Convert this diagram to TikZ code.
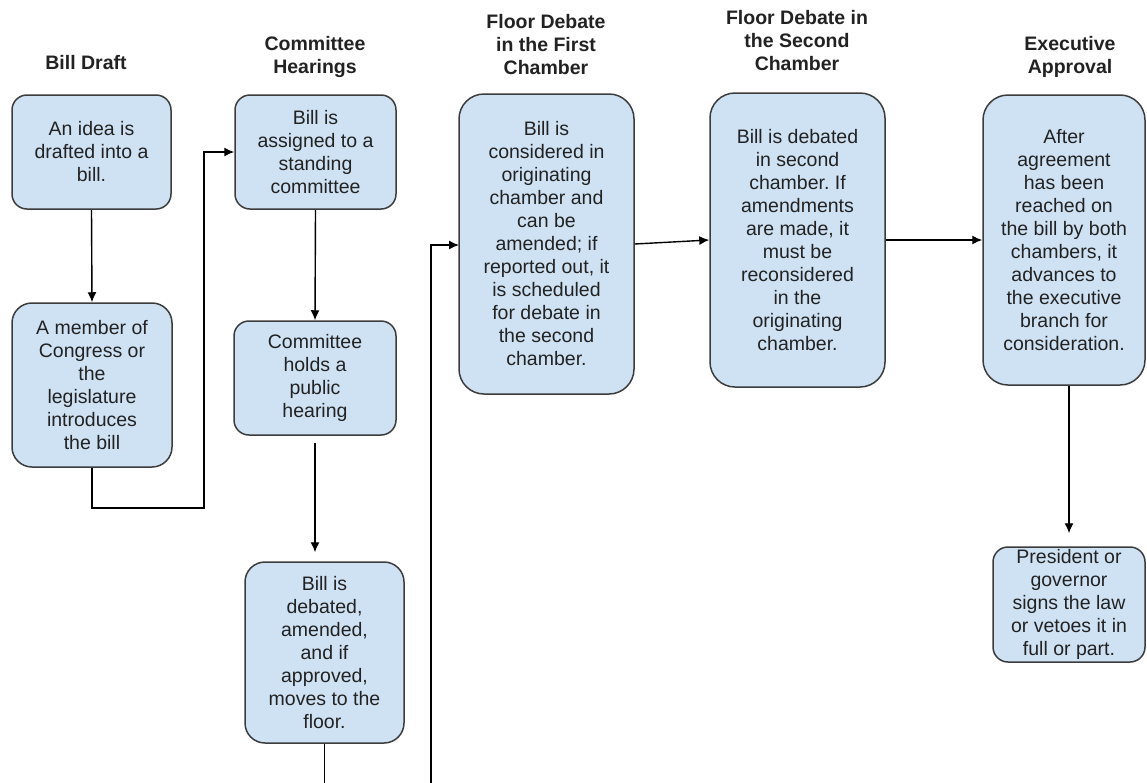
\documentclass[tikz,border=0pt]{standalone}
\usepackage{fontspec}
\setmainfont{Liberation Sans}
\frenchspacing
\usetikzlibrary{arrows.meta,calc}
\definecolor{boxfill}{HTML}{CFE2F3}
\definecolor{boxline}{HTML}{3C3C3C}
\definecolor{txt}{HTML}{222222}
\tikzset{
  box/.style={draw=boxline, line width=1.5pt, fill=boxfill, align=center, inner sep=0pt,
    text=txt, font=\fontsize{19.5}{23}\selectfont},
  ttl/.style={align=center, inner sep=0pt, text=txt, font=\fontsize{19.5}{23}\selectfont\bfseries},
  arr/.style={draw=black, line width=1.4pt, -{Latex[length=10pt,width=9pt]}},
  ln/.style={draw=black, line width=1.4pt}
}
\begin{document}
\begin{tikzpicture}[x=1pt,y=-1pt]
\clip (0,0) rectangle (1147,782);
\fill[white] (0,0) rectangle (1147,782);

% titles
\node[ttl] (t1) at (86,63) {Bill Draft};
\node[ttl] (t2) at (315,57) {Committee\\Hearings};
\node[ttl] (t3) at (546,45) {Floor Debate\\in the First\\Chamber};
\node[ttl] (t4) at (797,41) {Floor Debate in\\the Second\\Chamber};
\node[ttl] (t5) at (1070,57) {Executive\\Approval};

% boxes
\node[box, minimum width=159pt, minimum height=114pt, rounded corners=15pt] (b1) at (91.5,152)
  {An idea is\\drafted into a\\bill.};
\node[box, minimum width=160pt, minimum height=164pt, rounded corners=20pt] (b2) at (92,385)
  {A member of\\Congress or\\the\\legislature\\introduces\\the bill};
\node[box, minimum width=161pt, minimum height=114pt, rounded corners=15pt] (b3) at (315.5,152)
  {Bill is\\assigned to a\\standing\\committee};
\node[box, minimum width=162pt, minimum height=114pt, rounded corners=15pt] (b4) at (315,378)
  {Committee\\holds a\\public\\hearing};
\node[box, minimum width=159pt, minimum height=181pt, rounded corners=20pt] (b5) at (324.5,652.5)
  {Bill is\\debated,\\amended,\\and if\\approved,\\moves to the\\floor.};
\node[box, minimum width=175pt, minimum height=300pt, rounded corners=25pt] (b6) at (546.5,244)
  {Bill is\\considered in\\originating\\chamber and\\can be\\amended; if\\reported out, it\\is scheduled\\for debate in\\the second\\chamber.};
\node[box, minimum width=175pt, minimum height=294pt, rounded corners=25pt] (b7) at (797.5,240)
  {Bill is debated\\in second\\chamber. If\\amendments\\are made, it\\must be\\reconsidered\\in the\\originating\\chamber.};
\node[box, minimum width=162pt, minimum height=290pt, rounded corners=25pt] (b8) at (1064,240)
  {After\\agreement\\has been\\reached on\\the bill by both\\chambers, it\\advances to\\the executive\\branch for\\consideration.};
\node[box, minimum width=152pt, minimum height=115pt, rounded corners=15pt] (b9) at (1069,604.5)
  {President or\\governor\\signs the law\\or vetoes it in\\full or part.};

% connector corners
\coordinate (c1) at (92,508);
\coordinate (c2) at (204,508);
\coordinate (c3) at (204,152);
\coordinate (c4) at (324.5,800);
\coordinate (c5) at (431,800);
\coordinate (c6) at (431,245);
\coordinate (c7) at (459,245);

% connectors
\draw[arr] (b1.south) -- (b2.north);
\draw[arr] (b2.south) -- (c1) -- (c2) -- (c3) -- (b3.west);
\draw[arr] (b3.south) -- (b4.south |- b4.north);
\draw[arr, shorten <=7pt, shorten >=9pt] (b4.south) -- (b4.south |- b5.north);
\draw[arr] (b5.south) -- (c4) -- (c5) -- (c6) -- (c7);
\draw[arr] (b6.east) -- (b7.west);
\draw[arr] (b7.east) -- (b8.west);
\draw[arr, shorten >=13pt] (b9.north |- b8.south) -- (b9.north);
\end{tikzpicture}
\end{document}
